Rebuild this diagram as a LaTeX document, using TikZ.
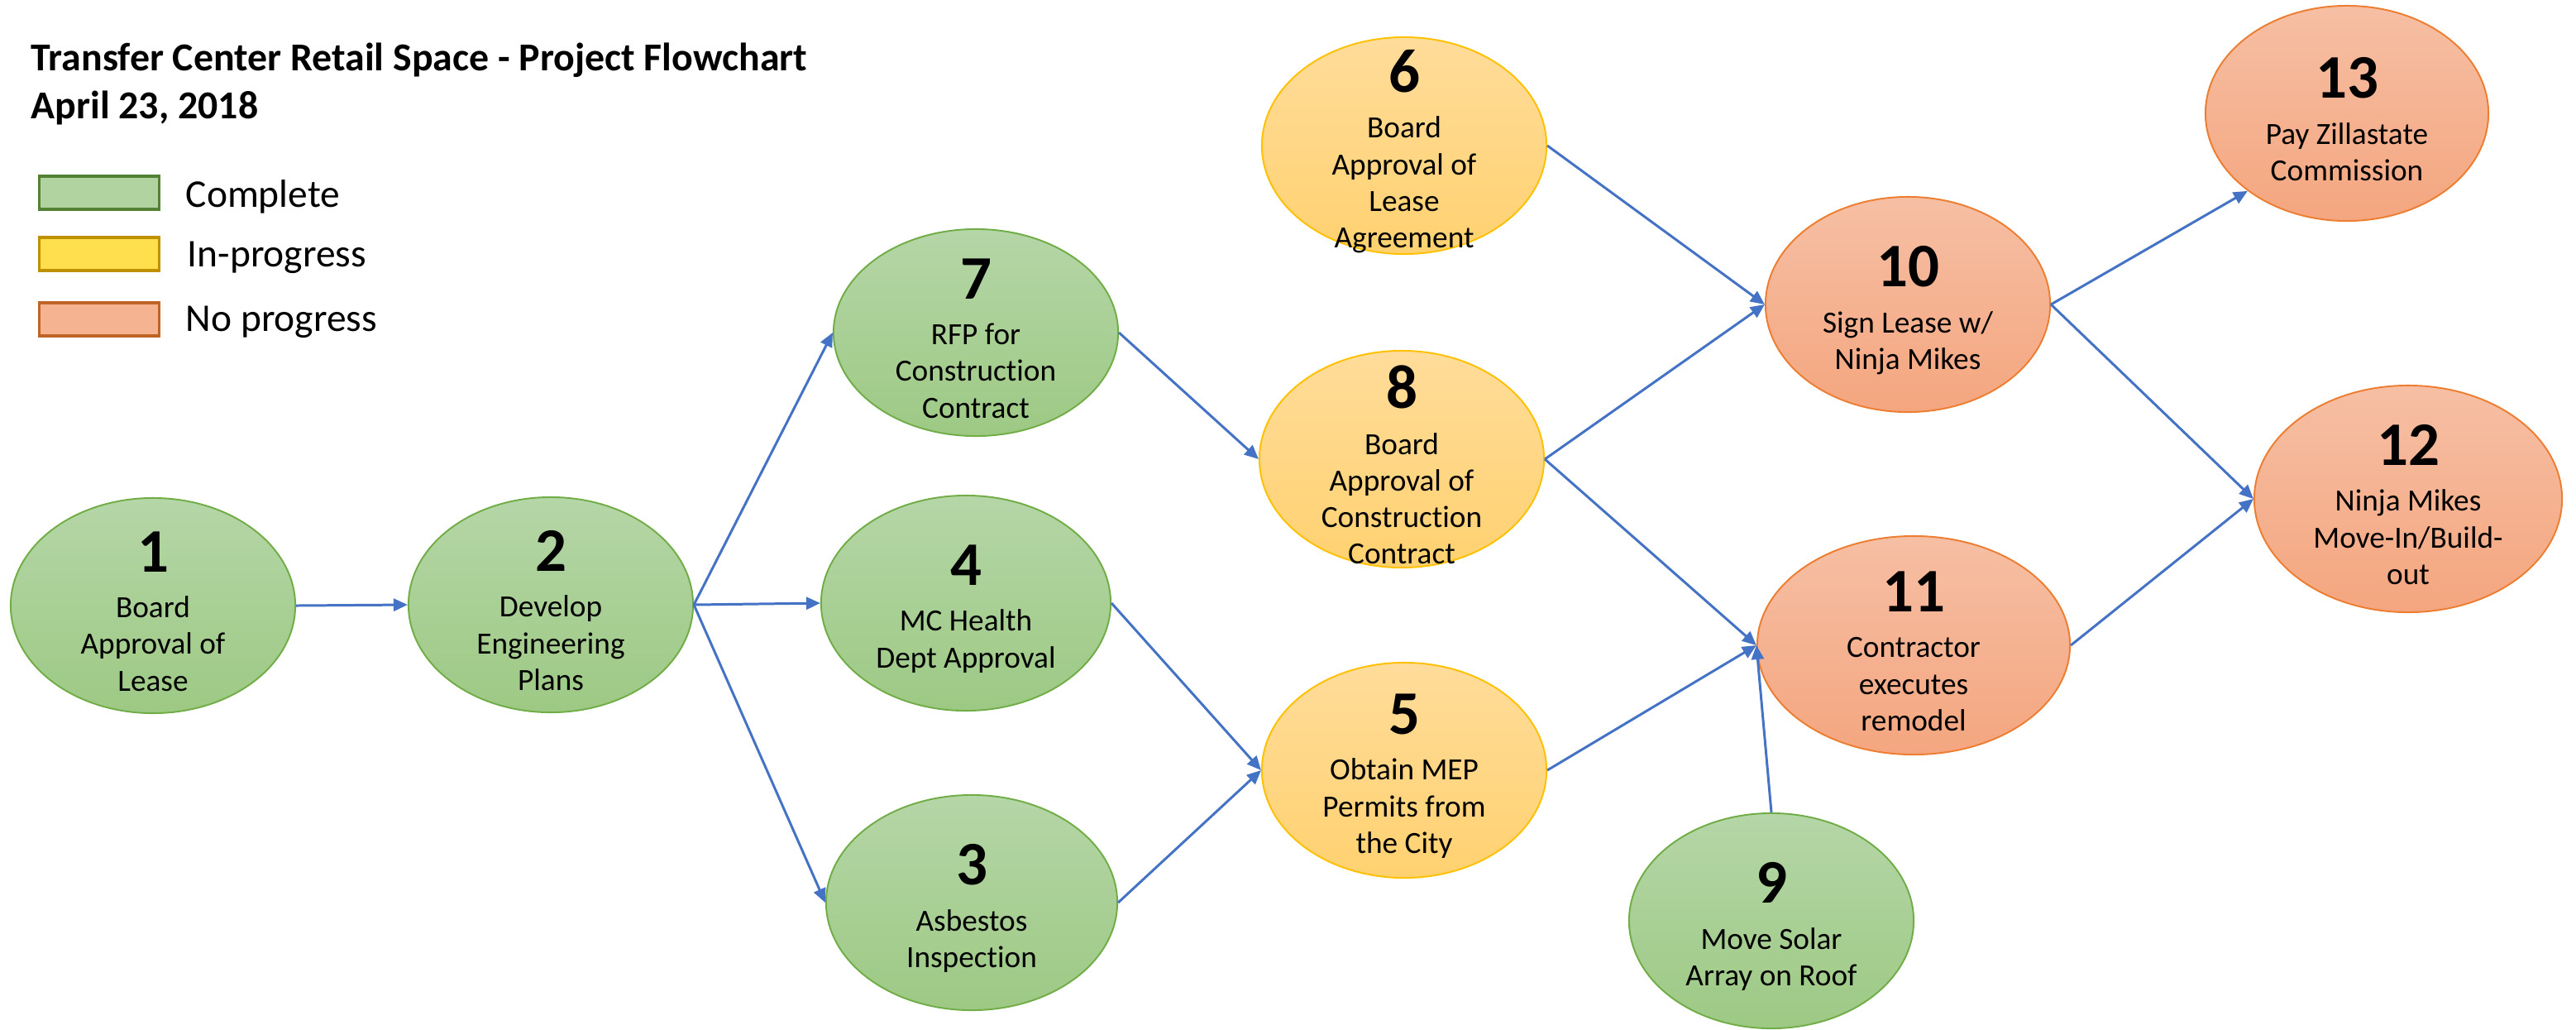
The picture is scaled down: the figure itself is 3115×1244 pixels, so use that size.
\documentclass[tikz,border=0pt]{standalone}
\usepackage{fontspec}
\setmainfont{Carlito}[Ligatures=NoCommon]
\usetikzlibrary{shapes.geometric,arrows.meta}

\definecolor{arrowblue}{HTML}{4472C4}
\definecolor{donetop}{HTML}{B5D6A7}
\definecolor{donebot}{HTML}{9DC984}
\definecolor{donedraw}{HTML}{70AD47}
\definecolor{worktop}{HTML}{FFDC9A}
\definecolor{workbot}{HTML}{FFD170}
\definecolor{workdraw}{HTML}{FFC000}
\definecolor{idletop}{HTML}{F6BFA4}
\definecolor{idlebot}{HTML}{F4A67F}
\definecolor{idledraw}{HTML}{ED7D31}

\newcommand{\numfont}{\fontsize{21.3}{25}\selectfont\bfseries}
\newcommand{\bodyfont}{\fontsize{10.6}{12.6}\selectfont}

\tikzset{task/.style = {ellipse, inner sep=0pt, line width=0.55pt,
    minimum width=3.44cm, minimum height=2.6cm},
  done/.style = {task, draw=donedraw, top color=donetop, bottom color=donebot},
  work/.style = {task, draw=workdraw, top color=worktop, bottom color=workbot},
  idle/.style = {task, draw=idledraw, top color=idletop, bottom color=idlebot},
  tasktext/.style = {align=center, font=\bodyfont, yshift=-0.07cm},
  keybox/.style = {rectangle, line width=0.9pt, minimum width=1.45cm, minimum height=0.4cm},
  keytext/.style = {anchor=base west, inner sep=0pt, font=\fontsize{13.5}{16}\selectfont},
  head/.style = {anchor=base west, inner sep=0pt, font=\fontsize{13.6}{16}\selectfont\bfseries},
  arr/.style = {draw=arrowblue, line width=0.85pt, -{Triangle[length=0.17cm, width=0.15cm]}}}

% ellipse with its number on top and the task below
\newcommand{\flowtask}[5]{%
  \node[#2] (#1) at (#3) {};
  \node[tasktext] (#1t) at (#1) {{\numfont #4}\\[3.2pt] #5};}

\begin{document}
\begin{tikzpicture}[x=0.01cm, y=-0.01cm]
  \useasboundingbox (0,0) rectangle (3115,1244);

  % heading and key
  \node[head] (title) at (37,85) {Transfer Center Retail Space - Project Flowchart};
  \node[head] (date) at (37,143) {April 23, 2018};
  \node[keybox, fill=donetop!80!donebot, draw=donedraw!75!black] (kdone) at (120,233) {};
  \node[keybox, fill=workbot!70!yellow, draw=workdraw!75!black] (kwork) at (120,307) {};
  \node[keybox, fill=idlebot!85!white, draw=idledraw!80!black] (kidle) at (120,386) {};
  \node[keytext] (kdonet) at (224,250) {Complete};
  \node[keytext] (kworkt) at (226,322) {In-progress};
  \node[keytext] (kidlet) at (224,400) {No progress};

  % tasks
  \flowtask{n1}{done}{185,732}{1}{Board\\ Approval of\\ Lease}
  \flowtask{n2}{done}{666,731}{2}{Develop\\ Engineering\\ Plans}
  \flowtask{n7}{done, minimum height=2.5cm}{1180,402}{7}{RFP for\\ Construction\\ Contract}
  \flowtask{n4}{done, minimum width=3.5cm}{1168,729}{4}{MC Health\\ Dept Approval}
  \flowtask{n3}{done, minimum width=3.52cm}{1175,1091}{3}{Asbestos\\ Inspection}
  \flowtask{n6}{work, minimum height=2.62cm}{1698,176}{6}{Board\\ Approval of\\ Lease\\ Agreement}
  \flowtask{n8}{work, minimum height=2.62cm}{1695,555}{8}{Board\\ Approval of\\ Construction\\ Contract}
  \flowtask{n5}{work, minimum height=2.6cm}{1698,931}{5}{Obtain MEP\\ Permits from\\ the City}
  \flowtask{n9}{done}{2142,1113}{9}{Move Solar\\ Array on Roof}
  \flowtask{n10}{idle}{2307,368}{10}{Sign Lease w/\\ Ninja Mikes}
  \flowtask{n11}{idle, minimum width=3.78cm, minimum height=2.64cm}{2314,780}{11}{Contractor\\ executes\\ remodel}
  \flowtask{n13}{idle, minimum width=3.42cm}{2838,137}{13}{Pay Zillastate\\ Commission}
  \flowtask{n12}{idle, minimum width=3.72cm, minimum height=2.74cm}{2912,603}{12}{Ninja Mikes\\ Move-In/Build-\\ out}

  % links
  \foreach \a/\b in {n1/n2, n2/n7, n2/n4, n2/n3, n7/n8, n4/n5, n3/n5,
      n6/n10, n8/n10, n8/n11, n5/n11, n10/n12, n11/n12}
    \draw[arr] (\a.east) -- (\b.west);
  \draw[arr] (n9.north) -- (n11.west);
  \draw[arr] (n10.east) -- (n13.218);
\end{tikzpicture}
\end{document}
